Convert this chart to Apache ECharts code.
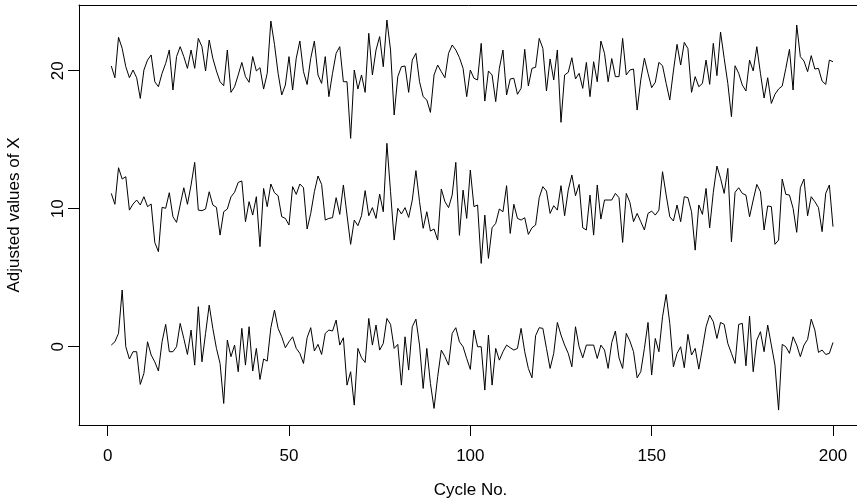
<!DOCTYPE html>
<html>
<head>
<meta charset="utf-8">
<script src="https://cdn.jsdelivr.net/npm/echarts@6/dist/echarts.min.js"></script>
<style>html,body{margin:0;padding:0;background:#fff}#c{width:857px;height:502px}</style>
</head>
<body>
<div id="c"></div>
<script>
// Series values, cycle 1..200
var seriesTop = [20.34,19.49,22.42,21.62,20.29,19.49,20.05,19.49,17.99,20.05,20.77,21.14,19.2,18.84,19.81,20.53,21.5,18.6,21.02,21.74,21.02,20.17,21.5,20.17,22.34,21.74,19.98,22.22,20.9,19.98,19.2,18.91,21.5,18.43,18.84,19.69,20.6,19.57,19.16,21.02,19.98,20.22,18.67,19.81,23.6,21.91,19.81,18.24,18.96,21.02,18.6,20.9,22.15,19.93,19.0,20.9,22.15,19.69,19.08,21.02,18.12,19.81,21.26,21.74,19.2,19.2,15.1,20.05,18.67,19.69,18.43,22.71,19.69,21.5,22.47,20.29,23.67,21.5,16.79,19.57,20.29,20.34,18.43,20.77,21.26,19.2,18.12,17.88,16.98,19.69,20.41,19.93,19.49,21.26,21.86,21.5,20.95,20.17,18.12,20.05,19.45,19.33,21.98,17.8,19.98,19.69,17.76,20.17,21.5,18.24,19.4,19.45,18.29,18.72,21.55,18.89,20.17,20.25,22.34,21.62,18.53,20.85,19.33,21.5,16.26,19.69,19.88,20.94,19.4,19.81,18.72,20.6,18.12,20.65,19.2,22.15,21.26,19.2,20.88,19.57,19.57,22.34,19.69,20.05,20.12,17.15,19.33,20.9,19.81,18.77,19.16,20.6,20.36,19.08,17.88,19.98,21.91,20.41,22.05,21.6,18.43,19.57,18.84,19.08,20.77,19.01,21.98,19.64,22.8,20.9,19.08,16.67,20.36,19.81,18.96,18.53,20.77,19.98,21.74,19.81,18.02,19.49,17.63,18.29,18.67,18.89,20.17,21.55,18.6,23.31,21.02,20.7,19.93,21.09,20.12,20.17,19.25,19.01,20.77,20.65];
var seriesMid = [11.11,10.32,12.97,12.15,12.32,9.9,10.34,10.63,10.27,10.87,10.15,10.34,7.55,6.89,10.1,10.03,11.16,9.42,9.01,10.27,11.52,10.32,11.72,13.36,9.9,9.86,9.98,11.23,10.27,10.1,8.09,9.78,9.98,10.86,11.19,11.91,12.01,9.06,10.51,9.54,10.87,7.25,11.47,10.15,11.79,11.16,10.94,9.42,9.3,8.82,11.6,11.04,11.79,11.52,8.53,9.66,11.23,12.37,11.76,9.18,9.3,9.35,10.8,9.59,11.72,9.54,7.42,9.18,8.77,9.49,11.31,9.49,10.08,9.3,11.06,9.78,14.74,11.23,7.73,10.03,9.62,10.08,9.37,10.63,12.76,10.51,8.58,9.78,8.38,8.53,7.73,11.43,10.51,10.08,10.99,13.36,8.07,11.35,9.3,12.8,10.15,10.27,6.04,9.54,6.4,8.62,8.94,9.98,9.78,11.67,8.21,10.32,9.3,9.18,9.35,8.14,8.62,8.82,10.8,11.6,11.28,9.66,10.22,9.9,11.67,9.49,11.35,12.44,10.94,11.76,8.62,8.46,10.99,8.09,11.72,9.25,10.63,10.63,10.63,11.11,10.8,7.56,11.11,10.46,9.06,9.66,9.06,8.46,9.66,9.83,9.54,9.9,12.68,10.99,9.42,9.11,10.27,9.06,10.87,10.8,9.78,7.0,10.27,9.59,11.47,8.62,11.19,13.09,12.2,11.11,12.92,7.61,11.19,11.52,11.11,10.99,9.42,10.63,11.76,11.23,8.46,10.2,10.15,7.42,7.73,12.15,11.04,10.99,10.03,8.29,11.52,12.15,9.49,10.87,10.51,10.08,8.34,11.11,11.72,8.7];
var seriesBot = [0.12,0.36,0.97,4.11,0.0,-0.89,-0.36,-0.36,-2.73,-1.93,0.36,-0.6,-1.1,-1.76,0.36,1.62,-0.36,-0.36,0,1.69,0.6,-0.56,1.21,-1.33,2.9,-1.09,0.97,3.02,1.33,-0.12,-1.21,-4.11,0.48,-0.72,0.12,-1.81,1.33,-1.33,1.45,-1.76,-0.12,-2.37,-0.89,-1.04,1.38,2.66,1.33,0.72,-0.07,0.36,0.72,-0.12,-0.48,-1.21,0.66,1.38,-0.31,0.17,-0.56,0.97,1.21,1.14,1.93,0.12,0.65,-2.78,-1.81,-4.23,-0.12,-0.8,-1.14,2.05,0.12,1.57,-0.24,0.24,2.05,1.62,-0.12,0.17,-2.78,0.72,-1.69,1.45,2.0,0.12,-3.02,-0.12,-2.66,-4.47,-2.17,-0.24,-0.72,-1.33,0.97,1.38,0.36,0,-0.85,-1.64,1.21,0,0,-3.14,0.85,-2.78,-0.12,-0.97,-0.36,0.12,-0.07,-0.24,-0.12,1.33,-0.36,-1.57,-2.25,0.8,1.38,1.33,-0.12,-1.57,-0.48,1.76,0.85,0.12,-0.48,-1.45,1.45,0,-0.8,0.12,0.12,0.12,-0.85,0.12,-0.24,-1.57,0.3,1.14,-0.8,-1.57,0.97,0.41,-0.36,-2.25,-1.81,-0.12,1.76,-2.05,0.6,-0.36,2.17,3.79,1.69,-1.45,-0.48,0,-1.52,0.9,-0.6,-0.12,-1.62,-0.12,1.45,2.29,1.81,0.6,1.76,1.62,0.24,-0.48,-1.21,1.62,1.69,-1.38,2.22,-1.81,0.48,1.09,-0.36,1.57,0.12,-1.33,-4.59,0.17,0,-0.48,0.72,0.12,-0.72,0.12,0.53,2.0,1.21,-0.41,-0.24,-0.56,-0.48,0.31];
var xTicks = [0, 50, 100, 150, 200];
var yTicks = [0, 10, 20];
var xTitle = 'Cycle No.';
var yTitle = 'Adjusted values of X';

function pairs(arr){ return arr.map(function(v,i){ return [i+1, v]; }); }

var font = 'Liberation Sans, Arial, Helvetica, sans-serif';
var chart = echarts.init(document.getElementById('c'), null, {renderer:'canvas'});
function lineSeries(arr){
  return {type:'line', data:pairs(arr), showSymbol:false, symbol:'none', silent:true,
    lineStyle:{color:'#000', width:1}, clip:true, animation:false};
}
var axisLineStyle = {show:true, onZero:false, lineStyle:{color:'#000', width:1}};
chart.setOption({
  animation:false,
  backgroundColor:'#fff',
  grid:{left:79, top:5, width:783, height:420, show:false, containLabel:false, outerBoundsMode:'none'},
  xAxis:[{type:'value', min:-7.9, max:208, position:'bottom',
    name:xTitle, nameLocation:'middle', nameGap:57,
    nameTextStyle:{color:'#000', fontSize:17, fontFamily:font},
    axisLine:axisLineStyle,
    axisTick:{show:true, inside:false, length:11, customValues:xTicks, lineStyle:{color:'#000'}},
    axisLabel:{show:true, customValues:xTicks, margin:23, color:'#000', fontSize:17, fontFamily:font},
    splitLine:{show:false}},
   {type:'value', min:-7.9, max:208, position:'top',
    axisLine:axisLineStyle, axisTick:{show:false}, axisLabel:{show:false}, splitLine:{show:false}}],
  yAxis:{type:'value', min:-5.67, max:24.76,
    name:yTitle, nameLocation:'middle', nameGap:56, nameRotate:90,
    nameTextStyle:{color:'#000', fontSize:17, fontFamily:font},
    axisLine:axisLineStyle,
    axisTick:{show:true, inside:false, length:11, customValues:yTicks, lineStyle:{color:'#000'}},
    axisLabel:{show:true, customValues:yTicks, rotate:90, margin:12, color:'#000', fontSize:17, fontFamily:font},
    splitLine:{show:false}},
  series:[lineSeries(seriesTop), lineSeries(seriesMid), lineSeries(seriesBot)]
});
</script>
</body>
</html>
